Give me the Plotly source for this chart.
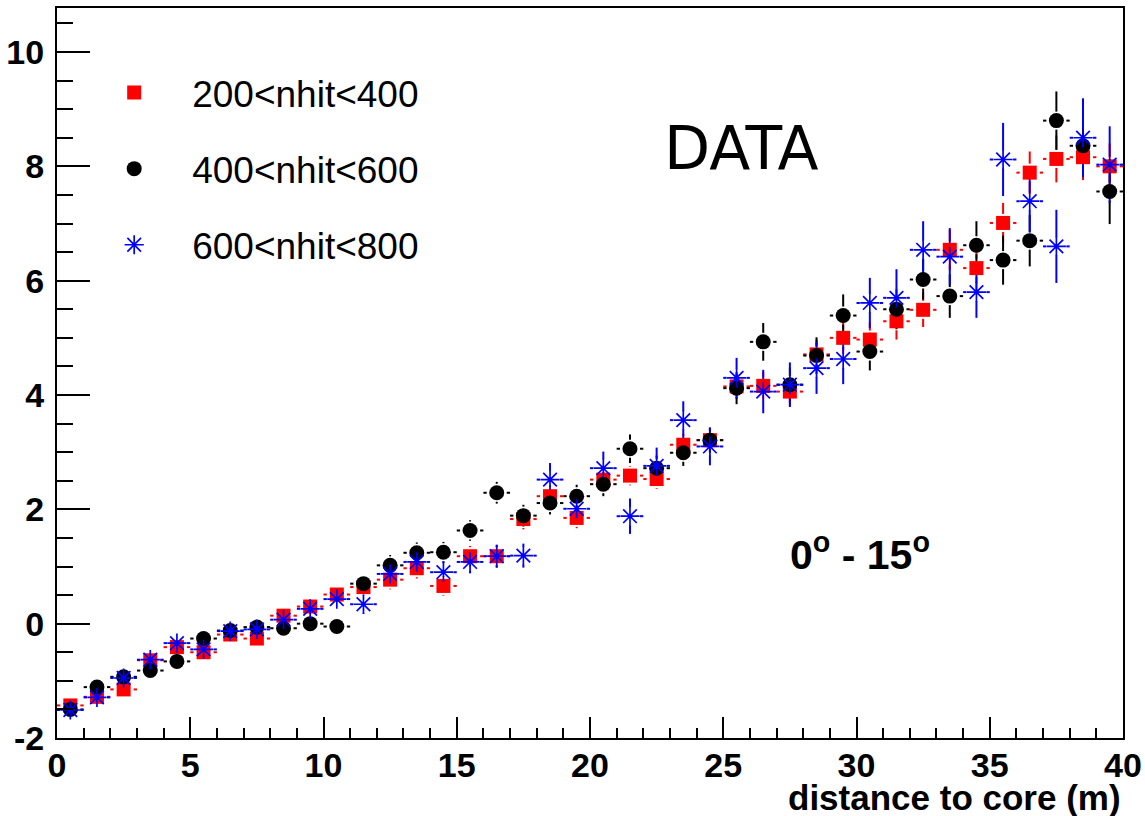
import plotly.graph_objects as go

# ---------------- data ----------------
distance = [0.5, 1.5, 2.5, 3.5, 4.5, 5.5, 6.5, 7.5, 8.5, 9.5,
            10.5, 11.5, 12.5, 13.5, 14.5, 15.5, 16.5, 17.5, 18.5, 19.5,
            20.5, 21.5, 22.5, 23.5, 24.5, 25.5, 26.5, 27.5, 28.5, 29.5,
            30.5, 31.5, 32.5, 33.5, 34.5, 35.5, 36.5, 37.5, 38.5, 39.5]
bin_half_width = 0.5

red_name = "200<nhit<400"
red_y = [-1.43, -1.28, -1.15, -0.64, -0.41, -0.50, -0.19, -0.26, 0.14, 0.30,
         0.51, 0.64, 0.77, 0.97, 0.66, 1.18, 1.18, 1.83, 2.23, 1.85,
         2.52, 2.59, 2.53, 3.13, 3.21, 4.15, 4.16, 4.06, 4.71, 5.00,
         4.97, 5.29, 5.49, 6.54, 6.22, 7.01, 7.89, 8.13, 8.16, 8.00]
red_err = [0.05, 0.06, 0.07, 0.08, 0.09, 0.10, 0.10, 0.11, 0.12, 0.12,
           0.13, 0.14, 0.17, 0.18, 0.17, 0.18, 0.20, 0.18, 0.19, 0.18,
           0.18, 0.17, 0.17, 0.19, 0.20, 0.22, 0.24, 0.25, 0.26, 0.28,
           0.30, 0.32, 0.30, 0.35, 0.40, 0.35, 0.37, 0.41, 0.40, 0.40]

black_name = "400<nhit<600"
black_y = [-1.50, -1.11, -0.93, -0.82, -0.66, -0.26, -0.12, -0.06, -0.08, 0.00,
           -0.05, 0.70, 1.02, 1.24, 1.25, 1.63, 2.29, 1.89, 2.11, 2.23,
           2.44, 3.06, 2.72, 2.99, 3.21, 4.12, 4.93, 4.18, 4.69, 5.39,
           4.76, 5.50, 6.02, 5.73, 6.62, 6.36, 6.70, 8.80, 8.36, 7.56]
black_err = [0.05, 0.06, 0.07, 0.08, 0.09, 0.10, 0.11, 0.12, 0.13, 0.14,
             0.15, 0.16, 0.18, 0.18, 0.18, 0.18, 0.19, 0.19, 0.20, 0.20,
             0.21, 0.25, 0.22, 0.23, 0.22, 0.28, 0.33, 0.30, 0.32, 0.37,
             0.33, 0.35, 0.35, 0.38, 0.42, 0.43, 0.45, 0.51, 0.50, 0.57]

blue_name = "600<nhit<800"
blue_y = [-1.51, -1.29, -0.95, -0.63, -0.34, -0.45, -0.13, -0.10, 0.07, 0.26,
          0.43, 0.34, 0.87, 1.08, 0.90, 1.08, 1.18, 1.19, 2.52, 2.01,
          2.72, 1.88, 2.76, 3.56, 3.10, 4.30, 4.06, 4.18, 4.47, 4.63,
          5.61, 5.70, 6.54, 6.42, 5.80, 8.12, 7.39, 6.60, 8.50, 8.03]
blue_err = [0.06, 0.07, 0.08, 0.09, 0.10, 0.11, 0.12, 0.13, 0.14, 0.15,
            0.16, 0.17, 0.18, 0.19, 0.19, 0.20, 0.20, 0.21, 0.29, 0.27,
            0.29, 0.31, 0.32, 0.33, 0.33, 0.35, 0.38, 0.39, 0.45, 0.44,
            0.44, 0.50, 0.50, 0.50, 0.45, 0.64, 0.55, 0.64, 0.69, 0.67]

y_tick_vals = [-2, 0, 2, 4, 6, 8, 10]
y_tick_text = ["-2", "0", "2", "4", "6", "8", "10"]

x_title = "distance to core (m)"
label_data = "DATA"
label_angle = "0<sup>o</sup> - 15<sup>o</sup>"

# ---------------- layout geometry ----------------
W, H = 1145, 816
M_L, M_R, M_T, M_B = 57, 22, 8, 78
X_RANGE = [0, 40]
Y_RANGE = [-2, 10.77]
plot_w = W - M_L - M_R
plot_h = H - M_T - M_B
px_x = plot_w / (X_RANGE[1] - X_RANGE[0])
px_y = plot_h / (Y_RANGE[1] - Y_RANGE[0])
gx = 10 / px_x  # error bars start outside the marker (ROOT style)
gy = 9 / px_y


def error_segments(xs, ys, ey):
    sx, sy = [], []
    for x, y, e in zip(xs, ys, ey):
        if bin_half_width > gx:
            sx += [x - bin_half_width, x - gx, None, x + gx, x + bin_half_width, None]
            sy += [y, y, None, y, y, None]
        if e > gy:
            sx += [x, x, None, x, x, None]
            sy += [y - e, y - gy, None, y + gy, y + e, None]
    return sx, sy


series = [
    (red_name, red_y, red_err, "#ff0000", "square", 14, None),
    (black_name, black_y, black_err, "#000000", "circle", 15, None),
    (blue_name, blue_y, blue_err, "#0000ff", "asterisk-open", 16, 1.7),
]

fig = go.Figure()
for name, ys, es, col, sym, sz, lw in series:
    sx, sy = error_segments(distance, ys, es)
    fig.add_trace(go.Scatter(
        x=sx, y=sy, mode="lines", line=dict(color=col, width=2),
        showlegend=False, hoverinfo="skip", legendgroup=name))
for name, ys, es, col, sym, sz, lw in series:
    marker = dict(symbol=sym, size=sz, color=col)
    marker["line"] = dict(color=col, width=lw) if lw else dict(width=0)
    fig.add_trace(go.Scatter(
        x=distance, y=ys, mode="markers", name=name, marker=marker,
        legendgroup=name))

axis_common = dict(
    showline=True, linecolor="black", linewidth=2, mirror=True,
    showgrid=False, zeroline=False, ticks="inside", tickcolor="black",
    tickwidth=2, automargin=False,
    tickfont=dict(family="Liberation Sans, Arial, sans-serif", size=34,
                  color="black", weight="bold"),
)

fig.update_layout(
    width=W, height=H,
    margin=dict(l=M_L, r=M_R, t=M_T, b=M_B, autoexpand=False),
    paper_bgcolor="white", plot_bgcolor="white",
    xaxis=dict(range=X_RANGE, dtick=5, tick0=0, ticklen=21,
               ticklabelstandoff=-4,
               minor=dict(dtick=1, ticks="inside", ticklen=10,
                          tickcolor="black", tickwidth=2, showgrid=False),
               **axis_common),
    yaxis=dict(range=Y_RANGE, tickmode="array", tickvals=y_tick_vals,
               ticktext=y_tick_text, ticklen=33, ticklabelstandoff=4,
               minor=dict(dtick=0.5, tick0=0, ticks="inside", ticklen=16,
                          tickcolor="black", tickwidth=2, showgrid=False),
               **axis_common),
    showlegend=True,
    legend=dict(x=0.018, y=0.926, xanchor="left", yanchor="top",
                bgcolor="rgba(0,0,0,0)", borderwidth=0,
                font=dict(family="Liberation Sans, Arial, sans-serif",
                          size=37, color="black"),
                itemwidth=106, itemsizing="trace", tracegroupgap=25,
                traceorder="grouped"),
    annotations=[
        dict(text=x_title, xref="paper", yref="paper", x=1.0, y=-0.081,
             xanchor="right", yanchor="middle", showarrow=False,
             font=dict(family="Liberation Sans, Arial, sans-serif", size=35,
                       color="black", weight="bold")),
        dict(text=label_data, xref="paper", yref="paper", x=0.642, y=0.808,
             xanchor="center", yanchor="middle", showarrow=False,
             font=dict(family="DejaVu Sans, sans-serif", size=60,
                       color="black")),
        dict(text=label_angle, xref="paper", yref="paper", x=0.686, y=0.255,
             xanchor="left", yanchor="middle", showarrow=False,
             font=dict(family="Liberation Sans, Arial, sans-serif", size=41,
                       color="black", weight="bold")),
    ],
)

fig.write_html(
    "out.html",
    config={"displayModeBar": False},
    post_script="document.body.style.margin='0';document.body.style.overflow='hidden';",
)
